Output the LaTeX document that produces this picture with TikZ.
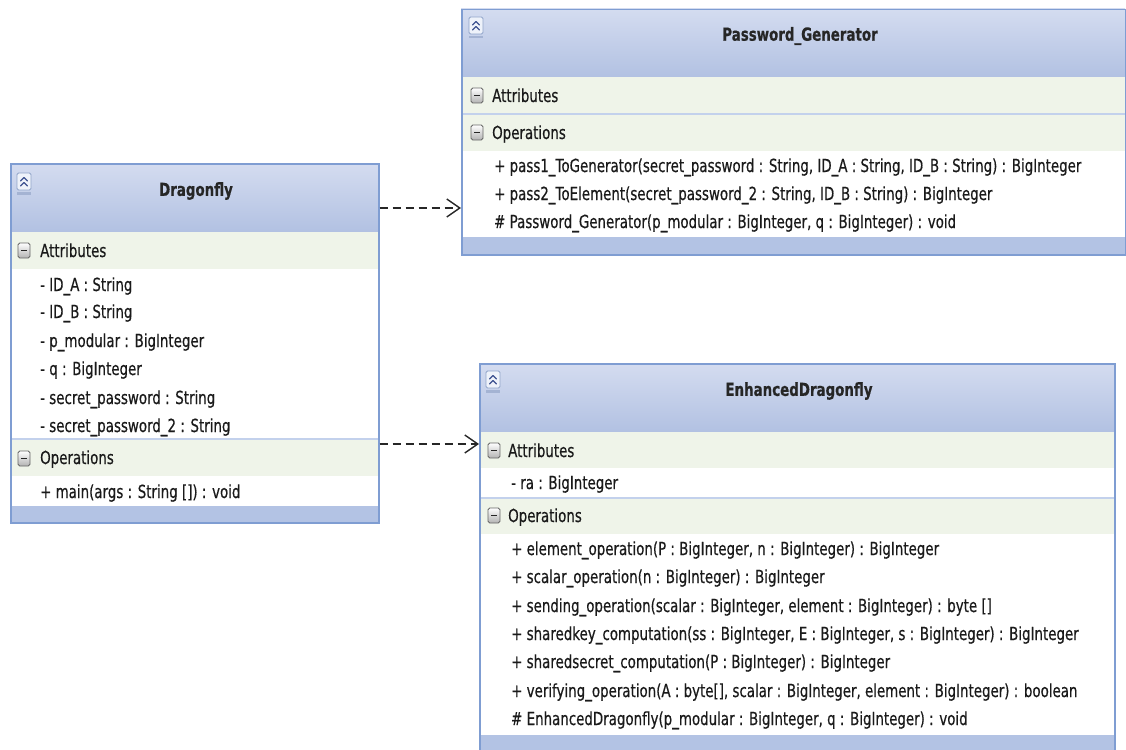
\documentclass[tikz,border=0pt]{standalone}
\usepackage{fontspec}
\setmainfont{DejaVu Sans}[FakeStretch=0.744, FakeBold=0.5]
\usetikzlibrary{arrows.meta,calc}

\definecolor{umlborder}{HTML}{7F9DD2}
\definecolor{hdrtop}{HTML}{D4DCF0}
\definecolor{hdrbot}{HTML}{B2C1E2}
\definecolor{bandgreen}{HTML}{EFF4E9}
\definecolor{footblue}{HTML}{B3C3E4}
\definecolor{seplight}{HTML}{C3D1EC}
\definecolor{iconedge}{HTML}{8FA3C9}
\definecolor{iconfill}{HTML}{EEF2FA}
\definecolor{iconbar}{HTML}{A4B3D3}
\definecolor{chevroncol}{HTML}{3E5391}
\definecolor{textcol}{HTML}{1A1A1A}

\newcommand\memberfont{\fontsize{18}{22}\selectfont}
\newcommand\classtitlefont{\fontsize{18}{22}\selectfont\bfseries}

\tikzset{
  classframe/.style={draw=umlborder, line width=1.5pt, fill=none, inner sep=0pt, anchor=north west},
  hdr/.style={top color=hdrtop, bottom color=hdrbot, draw=none},
  band/.style={fill=bandgreen},
  foot/.style={fill=footblue},
  sep/.style={draw=seplight, line width=1.5pt},
  member/.style={anchor=base west, inner sep=0pt, font=\memberfont, text=textcol},
  classtitle/.style={inner sep=0pt, font=\classtitlefont, text=black!85},
  chevron/.style={draw=chevroncol, line width=1.2pt, line cap=round, line join=round},
  dep/.style={draw=black!85, line width=1.3pt, dash pattern=on 8pt off 5pt,
    -{Straight Barb[length=13pt, width=18pt, line width=1.4pt]}},
  collapseicon/.pic={
    \draw[rounded corners=1.5pt, draw=iconedge, fill=iconfill, line width=0.8pt] (0,0) rectangle (14,17);
    \draw[chevron] (3.5,8) -- (7,4.5) -- (10.5,8);
    \draw[chevron] (3.5,13) -- (7,9.5) -- (10.5,13);
    \fill[iconbar] (0,19) rectangle (14,21.5);
  },
  minusicon/.pic={
    \shadedraw[top color=white, bottom color=black!30, draw=black!60, rounded corners=1.8pt, line width=0.9pt] (0,0) rectangle (12,15);
    \draw[line width=1.8pt, black!85] (3,7.5) -- (9,7.5);
  }
}

\begin{document}
\begin{tikzpicture}[x=1pt, y=-1pt]
\useasboundingbox (0,0) rectangle (1126,749);
\clip (0,0) rectangle (1126,749);

% ---------- Dragonfly ----------
\fill[white] (10,163) rectangle (378,522);
\shade[hdr] (10,163) rectangle (378,232);
\fill[band] (10,232) rectangle (378,269);
\fill[band] (10,439) rectangle (378,476);
\draw[sep] (10,439) -- (378,439);
\fill[foot] (10,506) rectangle (378,522);
\node[classframe, minimum width=368pt, minimum height=359pt] (dragonfly) at (10,163) {};
\pic at (17,173) {collapseicon};
\node[classtitle] (dfTitle) at (196,191) {Dragonfly};
\pic at (18,243) {minusicon};
\node[member] (dfAttr) at (40,257) {Attributes};
\node[member] (dfA1) at (40,291) {- ID\_A : String};
\node[member] (dfA2) at (40,318) {- ID\_B : String};
\node[member] (dfA3) at (40,347) {- p\_modular : BigInteger};
\node[member] (dfA4) at (40,375) {- q : BigInteger};
\node[member] (dfA5) at (40,404) {- secret\_password : String};
\node[member] (dfA6) at (40,432) {- secret\_password\_2 : String};
\pic at (18,451) {minusicon};
\node[member] (dfOps) at (40,464) {Operations};
\node[member] (dfO1) at (40,498) {+ main(args : String []) : void};

% ---------- Password_Generator ----------
\fill[white] (461,9) rectangle (1125,254);
\shade[hdr] (461,9) rectangle (1125,77);
\fill[band] (461,77) rectangle (1125,114);
\fill[band] (461,114) rectangle (1125,151);
\draw[sep] (461,114) -- (1125,114);
\fill[foot] (461,237) rectangle (1125,254);
\node[classframe, minimum width=664pt, minimum height=245pt] (pwgen) at (461,9) {};
\pic at (469,17) {collapseicon};
\node[classtitle] (pgTitle) at (800,36) {Password\_Generator};
\pic at (471,88) {minusicon};
\node[member] (pgAttr) at (492,102) {Attributes};
\pic at (471,125) {minusicon};
\node[member] (pgOps) at (492,139) {Operations};
\node[member] (pgO1) at (494,172) {+ pass1\_ToGenerator(secret\_password : String, ID\_A : String, ID\_B : String) : BigInteger};
\node[member] (pgO2) at (494,200) {+ pass2\_ToElement(secret\_password\_2 : String, ID\_B : String) : BigInteger};
\node[member] (pgO3) at (494,228) {\# Password\_Generator(p\_modular : BigInteger, q : BigInteger) : void};

% ---------- EnhancedDragonfly ----------
\fill[white] (479,363) rectangle (1114,770);
\shade[hdr] (479,363) rectangle (1114,432);
\fill[band] (479,432) rectangle (1114,468);
\fill[band] (479,498) rectangle (1114,534);
\draw[sep] (479,498) -- (1114,498);
\fill[foot] (479,735) rectangle (1114,770);
\node[classframe, minimum width=635pt, minimum height=407pt] (enhanced) at (479,363) {};
\pic at (486,371) {collapseicon};
\node[classtitle] (edTitle) at (799,391) {EnhancedDragonfly};
\pic at (488,443) {minusicon};
\node[member] (edAttr) at (508,457) {Attributes};
\node[member] (edA1) at (511,489) {- ra : BigInteger};
\pic at (488,508) {minusicon};
\node[member] (edOps) at (508,522) {Operations};
\node[member] (edO1) at (511,555) {+ element\_operation(P : BigInteger, n : BigInteger) : BigInteger};
\node[member] (edO2) at (511,583) {+ scalar\_operation(n : BigInteger) : BigInteger};
\node[member] (edO3) at (511,612) {+ sending\_operation(scalar : BigInteger, element : BigInteger) : byte []};
\node[member] (edO4) at (511,640) {+ sharedkey\_computation(ss : BigInteger, E : BigInteger, s : BigInteger) : BigInteger};
\node[member] (edO5) at (511,668) {+ sharedsecret\_computation(P : BigInteger) : BigInteger};
\node[member] (edO6) at (511,697) {+ verifying\_operation(A : byte[], scalar : BigInteger, element : BigInteger) : boolean};
\node[member] (edO7) at (511,725) {\# EnhancedDragonfly(p\_modular : BigInteger, q : BigInteger) : void};

% ---------- dependencies ----------
\coordinate (lk1) at (0,208);
\coordinate (lk2) at (0,444);
\draw[dep] (dragonfly.east |- lk1) -- (pwgen.west |- lk1);
\draw[dep] (dragonfly.east |- lk2) -- (enhanced.west |- lk2);
\end{tikzpicture}
\end{document}
